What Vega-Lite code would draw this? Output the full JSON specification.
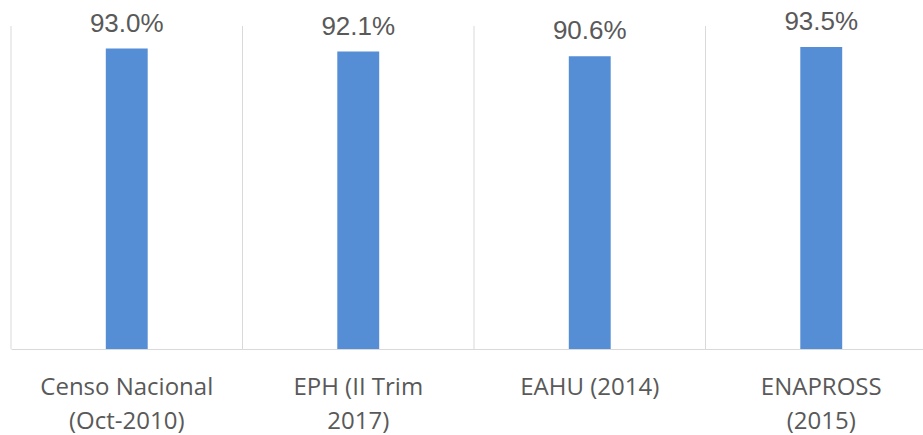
{
  "$schema": "https://vega.github.io/schema/vega-lite/v6.json",
  "width": 912,
  "height": 323,
  "autosize": {"type": "none"},
  "padding": {"left": 11, "top": 26, "right": 0, "bottom": 86},
  "background": "white",
  "config": {"view": {"stroke": null}},
  "data": {
    "values": [
      {"fuente": "Censo Nacional (Oct-2010)", "valor": 0.930},
      {"fuente": "EPH (II Trim 2017)", "valor": 0.921},
      {"fuente": "EAHU (2014)", "valor": 0.906},
      {"fuente": "ENAPROSS (2015)", "valor": 0.935}
    ]
  },
  "encoding": {
    "x": {
      "field": "fuente",
      "type": "nominal",
      "sort": null,
      "scale": {"type": "band", "range": [0, 926], "paddingInner": 0, "paddingOuter": 0},
      "axis": {
        "title": null,
        "grid": false,
        "ticks": false,
        "tickSize": 0,
        "domainColor": "#d9d9d9",
        "domainWidth": 1,
        "labelAngle": 0,
        "labelFont": "Open Sans",
        "labelFontSize": 24,
        "labelColor": "#595959",
        "labelBaseline": "alphabetic",
        "labelPadding": 45,
        "labelLineHeight": 34,
        "labelLimit": 300,
        "labelExpr": "datum.value == 'Censo Nacional (Oct-2010)' ? ['Censo Nacional', '(Oct-2010)'] : datum.value == 'EPH (II Trim 2017)' ? ['EPH (II Trim', '2017)'] : datum.value == 'ENAPROSS (2015)' ? ['ENAPROSS', '(2015)'] : datum.value"
      }
    }
  },
  "layer": [
    {
      "mark": {"type": "rule", "color": "#d9d9d9", "strokeWidth": 1},
      "encoding": {
        "x": {"field": "fuente", "type": "nominal", "sort": null, "bandPosition": 0}
      }
    },
    {
      "mark": {"type": "bar", "color": "#558ed5", "width": {"band": 0.181}},
      "encoding": {
        "y": {"field": "valor", "type": "quantitative", "scale": {"domain": [0, 1]}, "axis": null}
      }
    },
    {
      "mark": {"type": "text", "font": "Liberation Sans", "fontSize": 26, "color": "#595959", "baseline": "alphabetic", "dy": -17},
      "encoding": {
        "y": {"field": "valor", "type": "quantitative"},
        "text": {"field": "valor", "type": "quantitative", "format": ".1%"}
      }
    }
  ]
}
